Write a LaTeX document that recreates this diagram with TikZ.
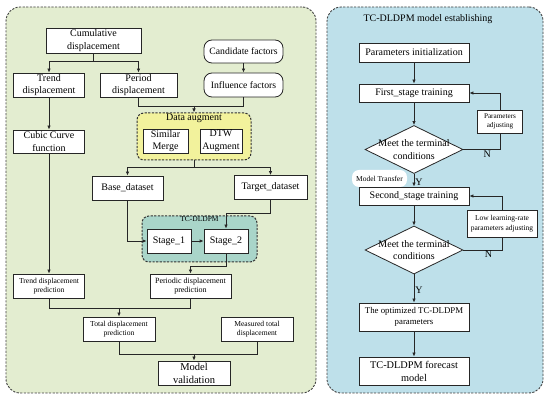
\documentclass[tikz,border=0pt]{standalone}
\usepackage{fontspec}
\setmainfont{Liberation Serif}
\usepackage{xcolor}
\usepackage{tikz}
\usetikzlibrary{arrows.meta,positioning,shapes.geometric,calc}
\definecolor{panelgreen}{HTML}{E3EDD0}
\definecolor{panelblue}{HTML}{BEE0EA}
\definecolor{augyellow}{HTML}{F2F29C}
\definecolor{modelteal}{HTML}{A9D5C9}
\tikzset{
  box/.style={draw=black!85, line width=0.8pt, fill=white, align=center, inner sep=1pt, minimum width=71pt, minimum height=24pt, font=\fontsize{10}{12.5}\selectfont},
  smallbox/.style={box, font=\fontsize{7.6}{9}\selectfont},
  roundbox/.style={box, rounded corners=8pt, minimum width=79pt},
  groupbox/.style={draw=black!80, line width=1pt, dash pattern=on 2.2pt off 1.4pt, rounded corners=7pt},
  panel/.style={draw=black!75, line width=0.9pt, dash pattern=on 2.2pt off 1.4pt, rounded corners=14pt},
  decision/.style={diamond, draw=black!85, line width=0.8pt, fill=white, minimum width=98pt, minimum height=48pt, inner sep=0pt},
  arrow/.style={-{Latex[length=4pt,width=3.5pt]}, line width=0.8pt, draw=black!85},
  line/.style={line width=0.8pt, draw=black!85},
  tag/.style={font=\fontsize{10}{12}\selectfont, inner sep=1pt}
}

\begin{document}
\begin{tikzpicture}[x=1pt, y=-1pt]
  \useasboundingbox[fill=white] (0,0) rectangle (550,403);

  \node[panel, fill=panelgreen, minimum width=310pt, minimum height=386pt] (leftpanel) at (161,200) {};
  \node[panel, fill=panelblue, minimum width=216pt, minimum height=386pt] (rightpanel) at (435,200) {};

  \node[groupbox, fill=augyellow, minimum width=114pt, minimum height=47pt,
    label={[anchor=north, inner sep=1.5pt, font=\fontsize{10}{12}\selectfont]north:Data augment}] (augment) at (194,136.5) {};
  \node[groupbox, fill=modelteal, minimum width=115pt, minimum height=46pt,
    label={[anchor=north, inner sep=1pt, font=\fontsize{7.5}{9}\selectfont]north:TC-DLDPM}] (tcdldpm) at (199.5,239) {};

  \node[box, minimum width=95pt, minimum height=25pt] (cumulative) at (93.5,40.5) {Cumulative\\displacement};
  \node[roundbox, minimum height=23pt, font=\fontsize{9.7}{12}\selectfont] (candidate) at (243.5,51.5) {Candidate factors};
  \node[roundbox, font=\fontsize{9.7}{12}\selectfont] (influence) at (243.5,85) {Influence factors};
  \node[box] (trend) at (49,85) {Trend\\displacement};
  \node[box, minimum width=77pt] (period) at (138.5,85) {Period\\displacement};
  \node[box, minimum width=45pt] (merge) at (165.5,141) {Similar\\Merge};
  \node[box, minimum width=42pt] (dtw) at (221,141) {DTW\\Augment};
  \node[box, minimum height=23pt] (cubic) at (49,141.5) {Cubic Curve\\function};
  \node[box] (base) at (127.5,188) {Base\_dataset};
  \node[box, minimum width=73pt] (target) at (270.5,187.5) {Target\_dataset};
  \node[box, minimum width=44pt] (stage1) at (169,241) {Stage\_1};
  \node[box, minimum width=44pt] (stage2) at (226,241) {Stage\_2};
  \node[smallbox] (trendpred) at (49,286) {Trend displacement\\prediction};
  \node[smallbox, minimum width=81pt, font=\fontsize{8}{9.5}\selectfont] (periodpred) at (190.5,286) {Periodic displacement\\prediction};
  \node[smallbox, minimum width=72pt] (totalpred) at (119,329) {Total displacement\\prediction};
  \node[smallbox, minimum width=72pt] (measured) at (257,329) {Measured total\\displacement};
  \node[box, minimum width=72pt, font=\fontsize{10.5}{13}\selectfont] (validation) at (194,373) {Model\\validation};

  \coordinate (j0) at (93.5,61);
  \coordinate (j1) at (194,106);
  \coordinate (j2) at (194,167);
  \coordinate (j3) at (226,213);
  \coordinate (j4) at (190.5,266);
  \coordinate (j5) at (119,308);
  \coordinate (j6) at (194,354);

  \draw[line] (cumulative) -- (j0);
  \draw[arrow] (j0) -| (trend);
  \draw[arrow] (j0) -| (period);
  \draw[arrow] (candidate) -- (influence);
  \draw[line] (period) |- (j1);
  \draw[line] (influence) |- (j1);
  \draw[arrow] (j1) -- (augment);
  \draw[arrow] (trend) -- (cubic);
  \draw[arrow] (cubic) -- (trendpred);
  \draw[line] (augment) -- (j2);
  \draw[arrow] (j2) -| (base);
  \draw[arrow] (j2) -| (target);
  \draw[arrow] (base) |- (stage1);
  \draw[arrow] (target) |- (j3) -- (stage2);
  \draw[arrow] (stage1) -- (stage2);
  \draw[arrow] (stage2) |- (j4) -- (periodpred);
  \draw[line] (trendpred) |- (j5);
  \draw[line] (periodpred) |- (j5);
  \draw[arrow] (j5) -- (totalpred);
  \draw[line] (totalpred) |- (j6);
  \draw[line] (measured) |- (j6);
  \draw[arrow] (j6) -- (validation);

  \node[tag] (title) at (428,19) {TC-DLDPM model establishing};
  \node[box, minimum width=110pt, minimum height=19pt] (init) at (414,52.5) {Parameters initialization};
  \node[box, minimum width=110pt, minimum height=18pt] (first) at (414,93) {First\_stage training};
  \node[decision, label={[align=center, font=\fontsize{10}{12.5}\selectfont]center:{Meet the terminal\\conditions}}] (cond1) at (414,149.5) {};
  \node[box, minimum width=110pt, minimum height=18pt] (second) at (414,196) {Second\_stage training};
  \node[decision, label={[align=center, font=\fontsize{10}{12.5}\selectfont]center:{Meet the terminal\\conditions}}] (cond2) at (414,250) {};
  \node[box, minimum width=110pt, minimum height=28pt, font=\fontsize{8.8}{11}\selectfont] (optimized) at (414,317) {The optimized TC-DLDPM\\parameters};
  \node[box, minimum width=110pt, minimum height=28pt, font=\fontsize{10.3}{13}\selectfont] (forecast) at (414,371) {TC-DLDPM forecast\\model};
  \node[fill=white, rounded corners=7pt, minimum width=55pt, minimum height=17pt, inner sep=1pt, font=\fontsize{7.5}{9}\selectfont] (transfer) at (379.5,178.5) {Model Transfer};

  \coordinate (r1) at (500,149.5);
  \coordinate (r2) at (502,250);

  \draw[arrow] (init) -- (first);
  \draw[arrow] (first) -- (cond1);
  \draw[arrow] (cond1) -- node[tag, pos=0.62, right]{Y} (second);
  \draw[arrow] (cond1.east) -- node[tag, pos=0.65, below]{N} (r1) |- (first.east);
  \draw[arrow] (second) -- (cond2);
  \draw[arrow] (cond2.east) -- node[tag, pos=0.65, below]{N} (r2) |- (second.east);
  \draw[arrow] (cond2) -- node[tag, pos=0.55, right]{Y} (optimized);
  \draw[arrow] (optimized) -- (forecast);

  \node[smallbox, minimum width=45pt, minimum height=23pt, font=\fontsize{7.2}{9}\selectfont] (paramadj) at (500,121.5) {Parameters\\adjusting};
  \node[smallbox, minimum width=70pt, minimum height=27pt, font=\fontsize{7.5}{9.5}\selectfont] (lowadj) at (502,223.5) {Low learning-rate\\parameters adjusting};
\end{tikzpicture}
\end{document}
